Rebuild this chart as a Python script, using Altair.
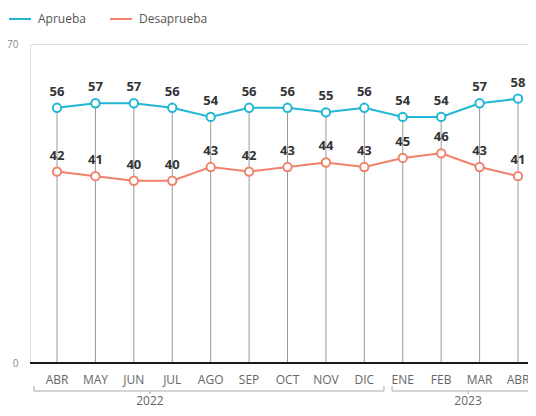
import altair as alt
import pandas as pd

months = ["ABR", "MAY", "JUN", "JUL", "AGO", "SEP", "OCT", "NOV", "DIC", "ENE", "FEB", "MAR", "ABR"]
aprueba = [56, 57, 57, 56, 54, 56, 56, 55, 56, 54, 54, 57, 58]
desaprueba = [42, 41, 40, 40, 43, 42, 43, 44, 43, 45, 46, 43, 41]
years = ["2022", "2023"]
series_names = ["Aprueba", "Desaprueba"]
colors = ["#22b5d4", "#f1826a"]

idx = list(range(len(months)))
long_rows = []
for i in idx:
    long_rows.append({"idx": i, "label": months[i], "series": "Aprueba", "value": aprueba[i]})
    long_rows.append({"idx": i, "label": months[i], "series": "Desaprueba", "value": desaprueba[i]})
df = pd.DataFrame(long_rows)
wide = pd.DataFrame({"idx": idx, "label": months, "aprueba": aprueba, "desaprueba": desaprueba})

# year brackets (month-index units)
brackets = pd.DataFrame({
    "year": years,
    "start": [-0.6, 8.72],
    "end": [8.51, 12.5],
    "mid": [2.42, 10.7],
})

FONT = "Open Sans"
H = 319
W = 498

xs = alt.Scale(domain=[-0.703, 12.26], nice=False, zero=False)
ys = alt.Scale(domain=[0, 70], nice=False)

base = alt.Chart(df).encode(
    x=alt.X("idx:Q", scale=xs, axis=None),
    y=alt.Y("value:Q", scale=ys,
            axis=alt.Axis(values=[0, 70], grid=False, domain=False, ticks=False,
                          labelColor="#888", labelFontSize=10, labelFont=FONT,
                          labelPadding=12, title=None)),
)

color = alt.Color(
    "series:N",
    scale=alt.Scale(domain=series_names, range=colors),
    legend=alt.Legend(
        title=None, orient="none", legendX=-22, legendY=-37, direction="horizontal",
        symbolType="stroke", symbolSize=484, symbolStrokeWidth=2,
        labelFont=FONT, labelFontSize=12, labelColor="#555", labelOffset=6,
        columnPadding=20,
    ),
)

vrules = alt.Chart(wide).mark_rule(color="#9a9a9a", strokeWidth=1).encode(
    x=alt.X("idx:Q", scale=xs, axis=None),
    y=alt.Y("aprueba:Q", scale=ys),
    y2=alt.datum(0),
)

baseline = alt.Chart(wide).mark_rule(color="#1a1a1a", strokeWidth=2).encode(
    y=alt.datum(0)
)

lines = base.mark_line(strokeWidth=2).encode(color=color, detail="series:N")
points = base.mark_point(filled=False, fill="white", opacity=1, size=70, strokeWidth=2).encode(
    color=alt.Color("series:N", scale=alt.Scale(domain=series_names, range=colors), legend=None)
)
labels = base.mark_text(dy=-16, fontWeight="bold", fontSize=13, font=FONT, color="#333").encode(
    text="value:Q"
)

month_labels = alt.Chart(wide).mark_text(fontSize=12, font=FONT, color="#666", baseline="middle").encode(
    x=alt.X("idx:Q", scale=xs, axis=None),
    y=alt.value(H + 17),
    text="label:N",
)

bracket_h = alt.Chart(brackets).mark_rule(color="#aaa", strokeWidth=1).encode(
    x=alt.X("start:Q", scale=xs, axis=None), x2="end:Q", y=alt.value(H + 28)
)
bracket_l = alt.Chart(brackets).mark_rule(color="#aaa", strokeWidth=1).encode(
    x=alt.X("start:Q", scale=xs, axis=None), y=alt.value(H + 23), y2=alt.value(H + 28)
)
bracket_r = alt.Chart(brackets).mark_rule(color="#aaa", strokeWidth=1).encode(
    x=alt.X("end:Q", scale=xs, axis=None), y=alt.value(H + 23), y2=alt.value(H + 28)
)
bracket_m = alt.Chart(brackets).mark_rule(color="#aaa", strokeWidth=1).encode(
    x=alt.X("mid:Q", scale=xs, axis=None), y=alt.value(H + 28), y2=alt.value(H + 31)
)
year_labels = alt.Chart(brackets).mark_text(fontSize=12, font=FONT, color="#666", baseline="middle").encode(
    x=alt.X("mid:Q", scale=xs, axis=None), y=alt.value(H + 38), text="year:N"
)

chart = alt.layer(
    vrules, baseline, bracket_h, bracket_l, bracket_r, bracket_m,
    lines, points, labels, month_labels, year_labels,
).properties(
    width=W, height=H,
    autosize="none",
    padding={"left": 22, "top": 36, "right": 0, "bottom": 45},
).configure_view(stroke=None).configure(background="white")

chart.save("out.html", embed_options={"renderer": "svg", "actions": False})
